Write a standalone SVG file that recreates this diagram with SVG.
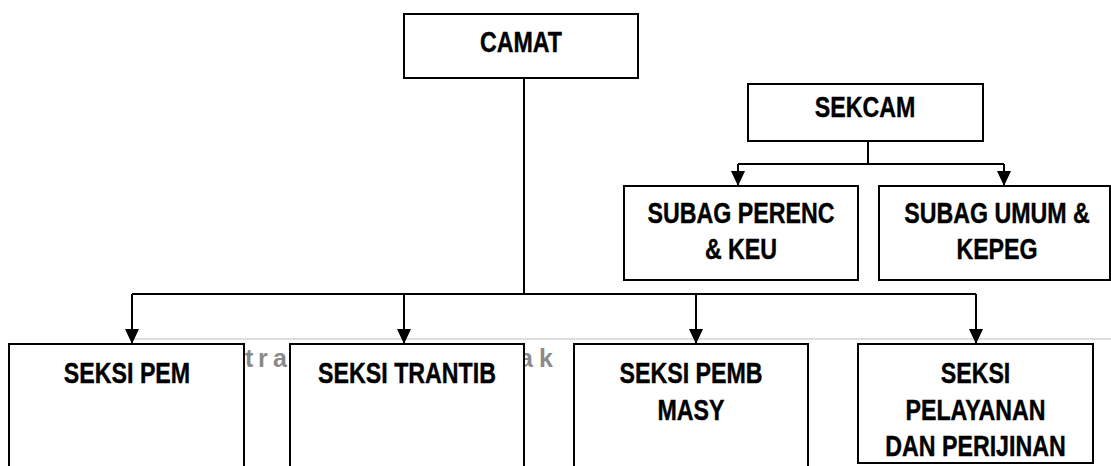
<svg xmlns="http://www.w3.org/2000/svg" width="1111" height="466" viewBox="0 0 1111 466">
<style>
.box{fill:#fff;stroke:#000;stroke-width:2}
.t{font-family:"Liberation Sans",Arial,sans-serif;font-weight:bold;font-size:29px;fill:#000;stroke:#000;stroke-width:0.4;text-anchor:middle}
.wm{font-family:"Liberation Sans",sans-serif;font-weight:bold;font-size:25px;fill:#8a8a8a}
.ln{fill:none;stroke:#000;stroke-width:2}
</style>
<defs>
<marker id="ah" viewBox="0 0 15 14" refX="15" refY="7" markerWidth="15" markerHeight="14" markerUnits="userSpaceOnUse" orient="auto">
<path d="M0,0 L15,7 L0,14 Z" fill="#000"/>
</marker>
</defs>
<rect width="1111" height="466" fill="#fff"/>
<g id="watermark">
<line x1="132" y1="339" x2="1111" y2="339" stroke="#d2d2d2" stroke-width="1.5"/>
<text class="wm" x="245" y="367">t</text>
<text class="wm" x="258" y="367">r</text>
<text class="wm" x="273" y="367">a</text>
<text class="wm" x="519" y="367">a</text>
<text class="wm" x="539" y="367">k</text>
</g>
<g id="connectors">
<path class="ln" d="M524,78 V294 M132,294 H976"/>
<path class="ln" d="M132,294 V344" marker-end="url(#ah)"/>
<path class="ln" d="M404,294 V344" marker-end="url(#ah)"/>
<path class="ln" d="M696,294 V344" marker-end="url(#ah)"/>
<path class="ln" d="M976,294 V344" marker-end="url(#ah)"/>
<path class="ln" d="M868,141 V164 M738,164 H1004"/>
<path class="ln" d="M738,164 V186" marker-end="url(#ah)"/>
<path class="ln" d="M1004,164 V186" marker-end="url(#ah)"/>
</g>
<g id="camat">
<rect class="box" x="404" y="14" width="234" height="64"/>
<text class="t" transform="translate(521,52) scale(0.8,1)">CAMAT</text>
</g>
<g id="sekcam">
<rect class="box" x="748" y="84" width="235" height="57"/>
<text class="t" transform="translate(865,117) scale(0.8,1)">SEKCAM</text>
</g>
<g id="subag-perenc">
<rect class="box" x="624" y="186" width="234" height="94"/>
<text class="t" transform="translate(741,223) scale(0.8,1)">SUBAG PERENC</text>
<text class="t" transform="translate(741,259) scale(0.8,1)">&amp; KEU</text>
</g>
<g id="subag-umum">
<rect class="box" x="879" y="186" width="231" height="94"/>
<text class="t" transform="translate(997,223) scale(0.8,1)">SUBAG UMUM &amp;</text>
<text class="t" transform="translate(997,259) scale(0.8,1)">KEPEG</text>
</g>
<g id="seksi-pem">
<rect class="box" x="9" y="344" width="235" height="130"/>
<text class="t" transform="translate(127,383) scale(0.8,1)">SEKSI PEM</text>
</g>
<g id="seksi-trantib">
<rect class="box" x="290" y="344" width="234" height="130"/>
<text class="t" transform="translate(407,383) scale(0.8,1)">SEKSI TRANTIB</text>
</g>
<g id="seksi-pemb">
<rect class="box" x="574" y="344" width="234" height="130"/>
<text class="t" transform="translate(691,383) scale(0.8,1)">SEKSI PEMB</text>
<text class="t" transform="translate(691,420) scale(0.8,1)">MASY</text>
</g>
<g id="seksi-pelayanan">
<rect class="box" x="858" y="344" width="235" height="119"/>
<text class="t" transform="translate(975.5,383) scale(0.8,1)">SEKSI</text>
<text class="t" transform="translate(975.5,420) scale(0.8,1)">PELAYANAN</text>
<text class="t" transform="translate(975.5,456) scale(0.8,1)">DAN PERIJINAN</text>
</g>
</svg>
